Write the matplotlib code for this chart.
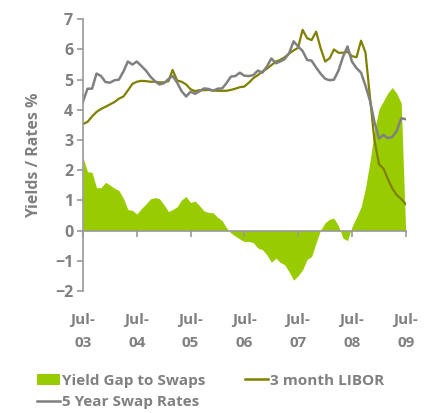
import numpy as np
import pandas as pd
import matplotlib
matplotlib.use('Agg')
import matplotlib.pyplot as plt
from matplotlib.patches import Patch
from matplotlib.lines import Line2D

# monthly, Jul-03 .. Jul-09
dates = pd.date_range('2003-07-01', '2009-07-01', freq='MS')

swap_5y = [4.27, 4.7, 4.7, 5.2, 5.12, 4.92, 4.9, 4.98, 5.0, 5.27, 5.6, 5.5,
           5.6, 5.45, 5.3, 5.1, 4.95, 4.84, 4.88, 5.02, 5.12, 4.9, 4.62, 4.44,
           4.6, 4.53, 4.62, 4.71, 4.69, 4.63, 4.7, 4.71, 4.88, 5.1, 5.12, 5.23,
           5.13, 5.12, 5.15, 5.3, 5.23, 5.43, 5.7, 5.54, 5.6, 5.68, 5.87, 6.27,
           6.1, 5.95, 5.65, 5.63, 5.4, 5.2, 5.03, 4.98, 5.0, 5.3, 5.75, 6.1,
           5.6, 5.38, 5.23, 4.8, 4.3, 3.6, 3.05, 3.17, 3.06, 3.1, 3.3, 3.72,
           3.69]

libor_3m = [3.53, 3.6, 3.78, 3.93, 4.03, 4.1, 4.18, 4.26, 4.37, 4.44, 4.64, 4.86,
            4.93, 4.96, 4.95, 4.93, 4.93, 4.91, 4.91, 4.95, 5.32, 4.97, 4.93, 4.84,
            4.68, 4.62, 4.65, 4.65, 4.66, 4.64, 4.63, 4.63, 4.63, 4.66, 4.7, 4.75,
            4.77, 4.9, 5.05, 5.15, 5.27, 5.36, 5.48, 5.6, 5.65, 5.74, 5.86, 5.97,
            6.05, 6.65, 6.37, 6.31, 6.59, 6.05, 5.6, 5.71, 6.0, 5.89, 5.89, 5.92,
            5.78, 5.74, 6.29, 5.9, 4.4, 3.0, 2.2, 2.05, 1.72, 1.4, 1.18, 1.05,
            0.88]

yield_gap = [2.43, 1.95, 1.93, 1.42, 1.42, 1.6, 1.51, 1.4, 1.33, 1.07, 0.7, 0.67,
             0.55, 0.73, 0.88, 1.05, 1.09, 1.06, 0.86, 0.63, 0.7, 0.79, 1.02, 1.13,
             0.93, 0.98, 0.82, 0.65, 0.6, 0.59, 0.44, 0.33, 0.1, -0.08, -0.18, -0.28,
             -0.36, -0.36, -0.4, -0.58, -0.63, -0.8, -1.05, -0.91, -1.05, -1.13, -1.36, -1.64,
             -1.5, -1.3, -0.95, -0.86, -0.4, 0.02, 0.26, 0.38, 0.41, 0.15, -0.25, -0.33,
             0.12, 0.44, 0.78, 1.4, 2.3, 3.3, 4.02, 4.3, 4.55, 4.74, 4.55, 4.22,
             0.0]

tick_dates = pd.date_range('2003-07-01', '2009-07-01', freq='12MS')
tick_labels = ['Jul-\n03', 'Jul-\n04', 'Jul-\n05', 'Jul-\n06', 'Jul-\n07', 'Jul-\n08', 'Jul-\n09']

green = '#99cc00'
olive = '#808000'
grey = '#808080'
txt = '#808080'

plt.rcParams['font.family'] = ['Open Sans', 'DejaVu Sans']
plt.rcParams['font.weight'] = 'bold'

fig = plt.figure(figsize=(4.32, 4.13), dpi=100)
ax = fig.add_axes([0.192, 0.2954, 0.747, 0.658])

ax.fill_between(dates, 0, yield_gap, color=green, lw=0)
ax.plot(dates, libor_3m, color=olive, lw=1.6)
ax.plot(dates, swap_5y, color=grey, lw=1.8)

ax.set_xlim(dates[0], dates[-1])
ax.set_ylim(-2, 7)
ax.set_yticks(range(-2, 8))

ax.spines['top'].set_visible(False)
ax.spines['right'].set_visible(False)
ax.spines['bottom'].set_position(('data', 0))
for s in ['left', 'bottom']:
    ax.spines[s].set_color('#999999')
    ax.spines[s].set_linewidth(1.2)

ax.set_xticks(tick_dates, tick_labels, linespacing=1.85)
ax.tick_params(axis='x', direction='out', length=4, color='#999999', width=1.2,
               pad=55, labelsize=11, labelcolor=txt)
ax.tick_params(axis='y', direction='out', length=4, color='#999999', width=1.2,
               pad=3, labelsize=11.5, labelcolor=txt)
ax.set_ylabel('Yields / Rates %', color=txt, fontsize=11.5, fontweight='bold',
              labelpad=9)

handles = [Patch(color=green, lw=0), Line2D([], [], color=grey, lw=1.8),
           Line2D([], [], color=olive, lw=1.8)]
names = ['Yield Gap to Swaps', '5 Year Swap Rates', '3 month LIBOR']
leg = fig.legend(handles, names, ncol=2, loc='upper left',
                 bbox_to_anchor=(0.085, 0.095), frameon=False, fontsize=11,
                 handlelength=1.5, handletextpad=0.15, columnspacing=2.6,
                 borderpad=0, labelspacing=0.5, borderaxespad=0)
for t in leg.get_texts():
    t.set_color(txt)

fig.savefig('out.png', dpi=100)
